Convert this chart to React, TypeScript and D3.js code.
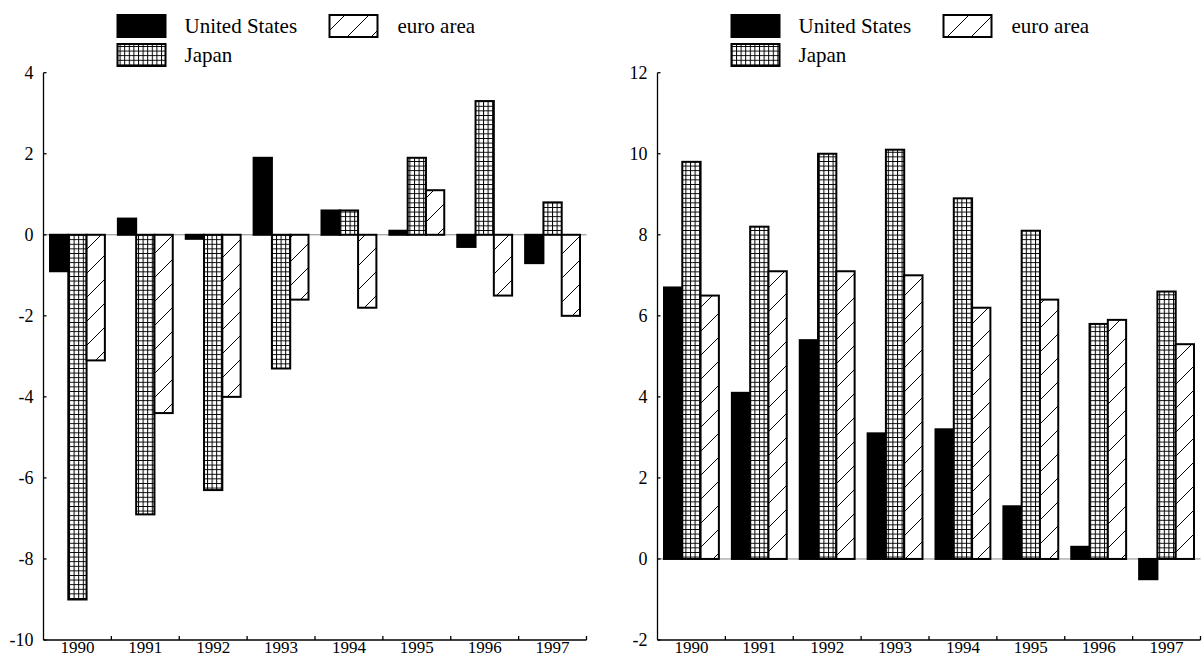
import React from 'react';
import * as d3 from 'd3';

const years = ['1990', '1991', '1992', '1993', '1994', '1995', '1996', '1997'];
const seriesNames = ['United States', 'Japan', 'euro area'];
const leftUS = [-0.9, 0.4, -0.1, 1.9, 0.6, 0.1, -0.3, -0.7];
const leftJapan = [-9.0, -6.9, -6.3, -3.3, 0.6, 1.9, 3.3, 0.8];
const leftEuro = [-3.1, -4.4, -4.0, -1.6, -1.8, 1.1, -1.5, -2.0];
const rightUS = [6.7, 4.1, 5.4, 3.1, 3.2, 1.3, 0.3, -0.5];
const rightJapan = [9.8, 8.2, 10.0, 10.1, 8.9, 8.1, 5.8, 6.6];
const rightEuro = [6.5, 7.1, 7.1, 7.0, 6.2, 6.4, 5.9, 5.3];
const leftTicks = [-10, -8, -6, -4, -2, 0, 2, 4];
const rightTicks = [-2, 0, 2, 4, 6, 8, 10, 12];

const FONT = "'Liberation Serif', 'Times New Roman', Times, serif";
const fills = ['#000', 'url(#gridPat)', 'url(#diagPat)'];

type PanelProps = {
  ax: number;
  series: number[][];
  domain: [number, number];
  ticks: number[];
};

const TOP = 72.7;
const BOTTOM = 640;
const WIDTH = 543;

function Panel({ ax, series, domain, ticks }: PanelProps) {
  const y = d3.scaleLinear().domain(domain).range([BOTTOM, TOP]);
  const x0 = d3.scaleBand<string>().domain(years).range([ax, ax + WIDTH]).padding(0);
  const bw = x0.bandwidth();
  const x1 = d3.scaleBand<string>().domain(seriesNames).range([6.5, bw - 6.5]).padding(0);
  const y0 = y(0);
  return (
    <g>
      <line x1={ax} x2={ax + WIDTH} y1={y0} y2={y0} stroke="#888" strokeWidth={1} />
      {years.map((yr, i) => (
        <g key={yr}>
          {seriesNames.map((s, j) => {
            const v = series[j][i];
            const top = Math.min(y(v), y0);
            const h = Math.abs(y(v) - y0);
            return (
              <rect
                key={s}
                x={(x0(yr) as number) + (x1(s) as number)}
                y={top}
                width={x1.bandwidth()}
                height={h}
                fill={fills[j]}
                stroke="#000"
                strokeWidth={2}
              />
            );
          })}
        </g>
      ))}
      <line x1={ax} x2={ax} y1={TOP} y2={BOTTOM} stroke="#000" strokeWidth={1.3} />
      {ticks.map((t) => (
        <g key={t}>
          <line x1={ax} x2={ax + 3} y1={y(t)} y2={y(t)} stroke="#000" strokeWidth={1.3} />
          <text x={ax - 10} y={y(t)} dy="0.35em" textAnchor="end" style={{ fontFamily: FONT, fontSize: 18 }}>
            {t}
          </text>
        </g>
      ))}
      <line x1={ax} x2={ax + WIDTH} y1={BOTTOM} y2={BOTTOM} stroke="#000" strokeWidth={1.3} />
      {years.map((yr) => (
        <g key={yr}>
          <line
            x1={(x0(yr) as number) + bw}
            x2={(x0(yr) as number) + bw}
            y1={BOTTOM}
            y2={BOTTOM - 4}
            stroke="#000"
            strokeWidth={1.3}
          />
          <text
            x={(x0(yr) as number) + bw / 2}
            y={653}
            textAnchor="middle"
            style={{ fontFamily: FONT, fontSize: 17 }}
          >
            {yr}
          </text>
        </g>
      ))}
      <g style={{ fontFamily: FONT, fontSize: 21 }}>
        <rect x={ax + 74} y={15} width={48} height={22} fill={fills[0]} stroke="#000" strokeWidth={2} />
        <text x={ax + 141} y={33}>{seriesNames[0]}</text>
        <rect x={ax + 74} y={44} width={48} height={22} fill={fills[1]} stroke="#000" strokeWidth={2} />
        <text x={ax + 141} y={62}>{seriesNames[1]}</text>
        <rect x={ax + 286} y={15} width={48} height={22} fill={fills[2]} stroke="#000" strokeWidth={2} />
        <text x={ax + 354} y={33}>{seriesNames[2]}</text>
      </g>
    </g>
  );
}

export default function App() {
  return (
    <svg
      width={1202}
      height={657}
      style={{ position: 'absolute', left: 0, top: 0, background: '#fff' }}
    >
      <defs>
        <pattern id="gridPat" patternUnits="userSpaceOnUse" width={4.6} height={4.6}>
          <rect width={4.6} height={4.6} fill="#fff" />
          <path d="M0,0.5H4.6M0.5,0V4.6" stroke="#000" strokeWidth={1} fill="none" />
        </pattern>
        <pattern id="diagPat" patternUnits="userSpaceOnUse" width={24} height={24}>
          <rect width={24} height={24} fill="#fff" />
          <path d="M0,24L24,0M-6,6L6,-6M18,30L30,18" stroke="#000" strokeWidth={1} fill="none" />
        </pattern>
      </defs>
      <rect width={1202} height={657} fill="#fff" />
      <Panel ax={43.5} series={[leftUS, leftJapan, leftEuro]} domain={[-10, 4]} ticks={leftTicks} />
      <Panel ax={657.5} series={[rightUS, rightJapan, rightEuro]} domain={[-2, 12]} ticks={rightTicks} />
    </svg>
  );
}
